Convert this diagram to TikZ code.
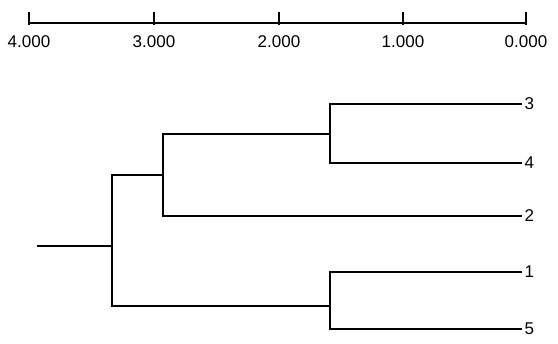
\documentclass[tikz,border=0pt]{standalone}
\usepackage{fontspec}
\setmainfont{Liberation Sans}
\usetikzlibrary{positioning}

\begin{document}
\begin{tikzpicture}[
      x=1pt,y=-1pt,
      branch/.style={draw=black,line width=2.6pt},
      axisline/.style={draw=black,line width=2.8pt},
      leaf/.style={anchor=west,inner sep=2.5pt,font=\fontsize{17}{19}\selectfont},
      ticklabel/.style={anchor=north,inner sep=0pt,font=\fontsize{17}{19}\selectfont}
    ]
    \useasboundingbox (0,0) rectangle (558,344);

    % distance scale
    \foreach \d/\x in {4/29,3/154,2/279,1/403,0/526}{
      \coordinate (t\d) at (\x,23);
      \draw[axisline] (\x,12) -- (\x,25);
      \node[ticklabel] (s\d) at (\x,35) {\d.000};
    }
    \draw[axisline] (t4) -- (t0);

    % leaves
    \node[leaf] (n3) at (522,104) {3};
    \node[leaf] (n4) at (522,163) {4};
    \node[leaf] (n2) at (522,216) {2};
    \node[leaf] (n1) at (522,272) {1};
    \node[leaf] (n5) at (522,329) {5};

    % joins
    \coordinate (j34) at (330,134);
    \coordinate (j342) at (163,175);
    \coordinate (j15) at (330,306);
    \coordinate (jr) at (112,246);
    \coordinate (root) at (37,246);

    \draw[branch] (n3.west) -| (j34) |- (n4.west);
    \draw[branch] (j34) -| (j342) |- (n2.west);
    \draw[branch] (n1.west) -| (j15) |- (n5.west);
    \draw[branch] (j342) -| (jr) |- (j15);
    \draw[branch] (root) -- (jr);
  \end{tikzpicture}
\end{document}
